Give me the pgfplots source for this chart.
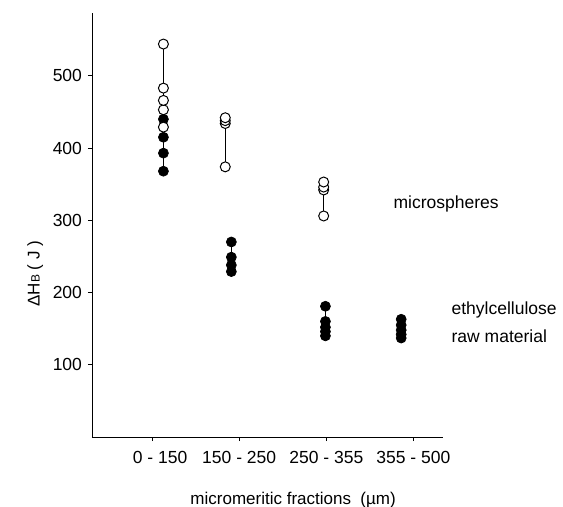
\documentclass[border=0pt]{standalone}
\usepackage{fontspec}
\setmainfont{Liberation Sans}
\usepackage{pgfplots}
\pgfplotsset{compat=1.18}

\begin{document}
\fontsize{17.5bp}{21bp}\selectfont
\begin{tikzpicture}
\useasboundingbox (-92bp,-70bp) rectangle (471bp,437bp);
\begin{axis}[
  scale only axis, width=351bp, height=424bp,
  xmin=-0.69, xmax=3.34, ymin=0, ymax=587,
  axis lines=left, axis line style={-, line width=0.8pt},
  tick align=outside, major tick length=4bp,
  tick style={black, line width=0.8pt},
  xtick={0,1,2,3},
  xticklabels={\hspace{16bp}0 - 150, 150 - 250, 250 - 355, 355 - 500},
  ytick={100,200,300,400,500},
  /pgf/number format/assume math mode=true,
  tick label style={font=\fontsize{17.5bp}{21bp}\selectfont},
  xticklabel style={yshift=-4bp},
  xlabel={micromeritic fractions\ \ (\textmu m)},
  x label style={at={(axis description cs:0.573,0)}, anchor=base, yshift=-67bp, font=\fontsize{17bp}{21bp}\selectfont},
  ylabel={ΔH{\fontsize{12bp}{14bp}\selectfont B} ( J )},
  y label style={at={(axis description cs:-0.162,0.385)}, anchor=center, font=\fontsize{17bp}{21bp}\selectfont},
  clip=false,
]
% ethylcellulose raw material (filled)
\addplot[black, line width=0.7pt, mark=*, mark size=5bp, mark options={fill=black}]
  coordinates {(0.13,368) (0.13,393) (0.13,415) (0.13,440)};
\addplot[black, line width=0.7pt, mark=*, mark size=5bp, mark options={fill=black}]
  coordinates {(0.91,229) (0.91,238) (0.91,249) (0.91,270)};
\addplot[black, line width=0.7pt, mark=*, mark size=5bp, mark options={fill=black}]
  coordinates {(1.99,140) (1.99,146) (1.99,152) (1.99,160) (1.99,181)};
\addplot[black, line width=0.7pt, mark=*, mark size=5bp, mark options={fill=black}]
  coordinates {(2.86,137) (2.86,142) (2.86,148) (2.86,155) (2.86,163)};
% microspheres (open)
\addplot[black, line width=0.7pt, mark=*, mark size=5bp, mark options={fill=white, line width=1pt}]
  coordinates {(0.13,429) (0.13,453) (0.13,466) (0.13,483) (0.13,544)};
\addplot[black, line width=0.7pt, mark=*, mark size=5bp, mark options={fill=white, line width=1pt}]
  coordinates {(0.84,374) (0.84,434) (0.84,438) (0.84,442)};
\addplot[black, line width=0.7pt, mark=*, mark size=5bp, mark options={fill=white, line width=1pt}]
  coordinates {(1.97,306) (1.97,342) (1.97,346) (1.97,353)};
\node[anchor=base west, inner sep=0pt] at (axis cs:2.77,317) {microspheres};
\node[anchor=base west, inner sep=0pt] at (axis cs:3.437,169) {ethylcellulose};
\node[anchor=base west, inner sep=0pt] at (axis cs:3.437,131.5) {raw material};
\end{axis}
\end{tikzpicture}
\end{document}
